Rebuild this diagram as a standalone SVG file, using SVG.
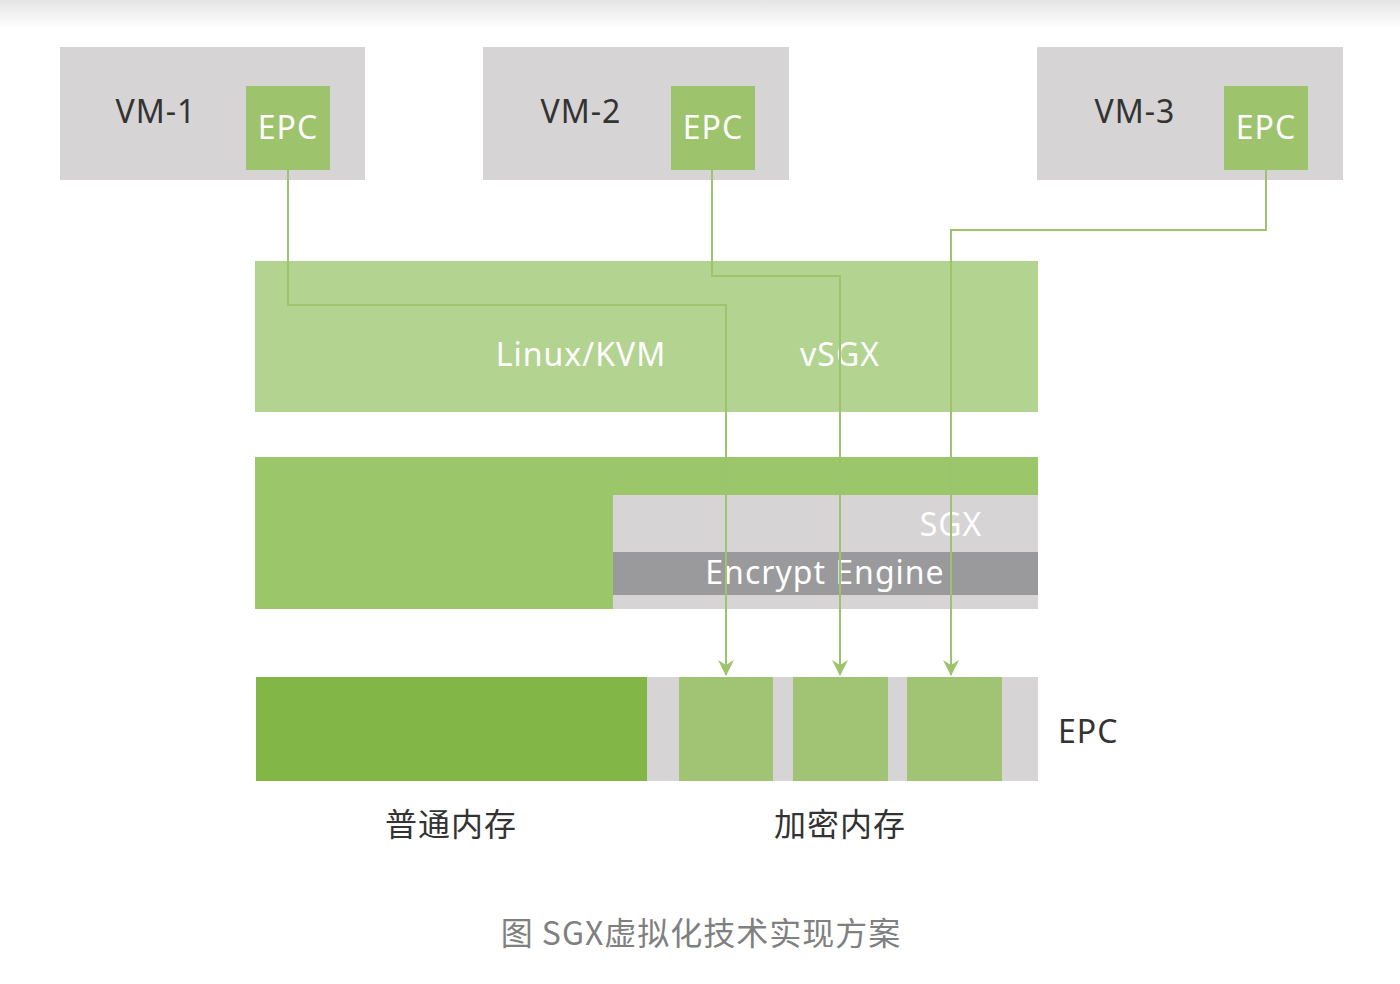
<svg xmlns="http://www.w3.org/2000/svg" width="1400" height="984" viewBox="0 0 1400 984">
<defs>
<linearGradient id="topg" x1="0" y1="0" x2="0" y2="1">
<stop offset="0" stop-color="#e4e4e4"/>
<stop offset="1" stop-color="#ffffff"/>
</linearGradient>
<marker id="arr" markerWidth="16" markerHeight="16" refX="15" refY="8" orient="auto" markerUnits="userSpaceOnUse" viewBox="0 0 16 16">
<path d="M0,0 L16,8 L0,16 L5,8 Z" fill="#9dc46c"/>
</marker>
</defs>
<style>
.vm{fill:#d6d4d5}
.epc{fill:#9dc46c}
.t{font-family:"Noto Sans","Open Sans","Liberation Sans",sans-serif;font-size:32px;letter-spacing:1px}
.w{fill:#ffffff}
.d{fill:#333333}
.cj{font-family:"Noto Sans CJK SC","Noto Sans",sans-serif;font-size:32px;letter-spacing:1px}
.ln{fill:none;stroke:#9dc46c;stroke-width:2}
</style>
<rect x="0" y="0" width="1400" height="984" fill="#ffffff"/>
<rect x="0" y="0" width="1400" height="28" fill="url(#topg)"/>
<g id="vm1">
<rect class="vm" x="60" y="47" width="305" height="133"/>
<text class="t d" x="156" y="123" text-anchor="middle">VM-1</text>
<rect class="epc" x="246" y="86" width="84" height="84"/>
<text class="t w" x="288" y="139" text-anchor="middle">EPC</text>
</g>
<g id="vm2">
<rect class="vm" x="483" y="47" width="306" height="133"/>
<text class="t d" x="581" y="123" text-anchor="middle">VM-2</text>
<rect class="epc" x="671" y="86" width="84" height="84"/>
<text class="t w" x="713" y="139" text-anchor="middle">EPC</text>
</g>
<g id="vm3">
<rect class="vm" x="1037" y="47" width="306" height="133"/>
<text class="t d" x="1135" y="123" text-anchor="middle">VM-3</text>
<rect class="epc" x="1224" y="86" width="84" height="84"/>
<text class="t w" x="1266" y="139" text-anchor="middle">EPC</text>
</g>
<g id="kvm">
<rect x="255" y="261" width="783" height="151" fill="#b3d391"/>
<text class="t w" x="581" y="366" text-anchor="middle">Linux/KVM</text>
<text class="t w" x="840" y="366" text-anchor="middle">vSGX</text>
</g>
<g id="hw">
<rect x="255" y="457" width="783" height="152" fill="#9bc669"/>
<rect x="613" y="495" width="425" height="114" fill="#d6d4d5"/>
<rect x="613" y="552" width="425" height="43" fill="#9a9a9c"/>
<text class="t w" x="951" y="536" text-anchor="middle">SGX</text>
<text class="t w" x="825" y="584" text-anchor="middle">Encrypt Engine</text>
</g>
<g id="mem">
<rect x="256" y="677" width="391" height="104" fill="#82b646"/>
<rect x="647" y="677" width="391" height="104" fill="#d6d4d5"/>
<rect x="679" y="677" width="94" height="104" fill="#a0c374"/>
<rect x="793" y="677" width="95" height="104" fill="#a0c374"/>
<rect x="907" y="677" width="95" height="104" fill="#a0c374"/>
<text class="t d" x="1058" y="743">EPC</text>
<text class="cj d" x="451" y="836" text-anchor="middle">普通内存</text>
<text class="cj d" x="840" y="836" text-anchor="middle">加密内存</text>
</g>
<g id="connectors">
<polyline class="ln" points="288,170 288,305 726,305 726,675" marker-end="url(#arr)"/>
<polyline class="ln" points="712,170 712,276 840,276 840,675" marker-end="url(#arr)"/>
<polyline class="ln" points="1266,170 1266,230 951,230 951,675" marker-end="url(#arr)"/>
</g>
<g id="caption">
<text class="cj" x="701" y="945" text-anchor="middle" fill="#808080">图 SGX虚拟化技术实现方案</text>
</g>
</svg>
